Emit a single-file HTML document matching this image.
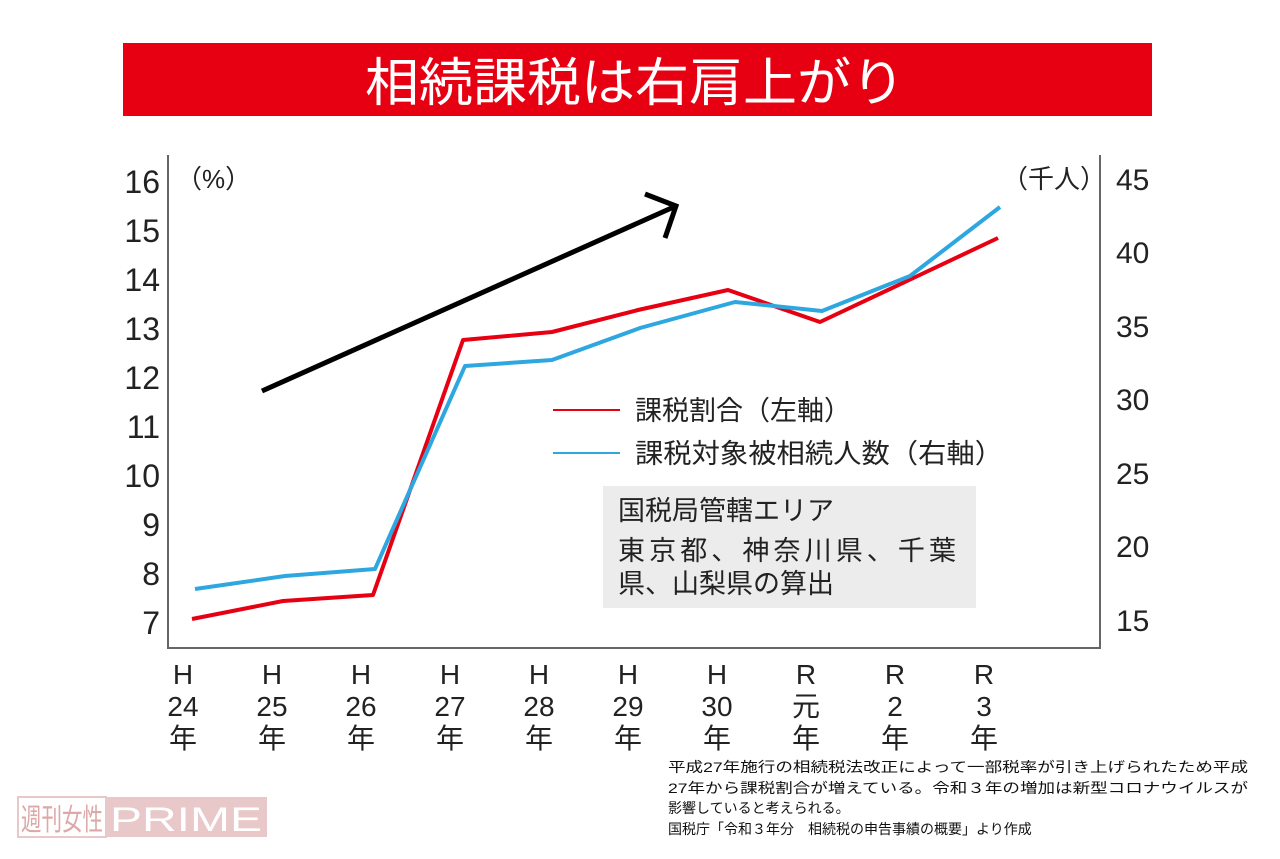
<!DOCTYPE html>
<html><head><meta charset="utf-8"><style>
body{margin:0;background:#fff;width:1280px;height:854px;overflow:hidden;font-family:"Liberation Sans","Noto Sans CJK JP",sans-serif}
</style></head><body>
<svg width="1280" height="854" xmlns="http://www.w3.org/2000/svg" font-family="Liberation Sans, Noto Sans CJK JP, sans-serif">
<rect x="123" y="43" width="1029" height="73" fill="#e60012"/>
<text x="365" y="101" font-size="52" fill="#fff" textLength="540" lengthAdjust="spacingAndGlyphs">相続課税は右肩上がり</text>
<g stroke="#666" stroke-width="2" fill="none">
<line x1="168" y1="155" x2="168" y2="649"/>
<line x1="167" y1="648" x2="1101" y2="648"/>
<line x1="1100" y1="155" x2="1100" y2="649"/>
</g>
<g font-size="32" fill="#222" text-anchor="end">
<text x="160" y="193">16</text><text x="160" y="242">15</text><text x="160" y="291">14</text><text x="160" y="340">13</text><text x="160" y="389">12</text><text x="160" y="438">11</text><text x="160" y="487">10</text><text x="160" y="536">9</text><text x="160" y="585">8</text><text x="160" y="634">7</text>
</g>
<g font-size="30" fill="#222" text-anchor="start">
<text x="1116" y="190">45</text><text x="1116" y="263">40</text><text x="1116" y="337">35</text><text x="1116" y="410">30</text><text x="1116" y="484">25</text><text x="1116" y="557">20</text><text x="1116" y="631">15</text>
</g>
<text x="176" y="188" font-size="26" fill="#222">（%）</text>
<text x="1002" y="188" font-size="26" fill="#222">（千人）</text>
<g font-size="28" fill="#222" text-anchor="middle">
<g transform="translate(183,0)"><text y="684">H</text><text y="716">24</text><text y="748">年</text></g>
<g transform="translate(272,0)"><text y="684">H</text><text y="716">25</text><text y="748">年</text></g>
<g transform="translate(361,0)"><text y="684">H</text><text y="716">26</text><text y="748">年</text></g>
<g transform="translate(450,0)"><text y="684">H</text><text y="716">27</text><text y="748">年</text></g>
<g transform="translate(539,0)"><text y="684">H</text><text y="716">28</text><text y="748">年</text></g>
<g transform="translate(628,0)"><text y="684">H</text><text y="716">29</text><text y="748">年</text></g>
<g transform="translate(717,0)"><text y="684">H</text><text y="716">30</text><text y="748">年</text></g>
<g transform="translate(806,0)"><text y="684">R</text><text y="716">元</text><text y="748">年</text></g>
<g transform="translate(895,0)"><text y="684">R</text><text y="716">2</text><text y="748">年</text></g>
<g transform="translate(984,0)"><text y="684">R</text><text y="716">3</text><text y="748">年</text></g>
</g>
<polyline fill="none" stroke="#e60012" stroke-width="4" stroke-linejoin="round" points="192,619 283,601 373,595 463,340 552,332 638,310 728,290 820,322 907,281 998,238"/>
<polyline fill="none" stroke="#2ea7e0" stroke-width="4" stroke-linejoin="round" points="195,589 285,576 375,569 465,366 552,360 640,328 735,302 822,311 910,276 1000,207"/>
<g stroke="#000" stroke-width="5" fill="none">
<line x1="262" y1="391" x2="676" y2="206"/>
<polyline points="645,194 676,206 665,238"/>
</g>
<line x1="553" y1="410" x2="620" y2="410" stroke="#e60012" stroke-width="2"/>
<line x1="553" y1="453" x2="620" y2="453" stroke="#2ea7e0" stroke-width="2"/>
<text x="635" y="420" font-size="27" fill="#222">課税割合（左軸）</text>
<text x="635" y="463" font-size="27" fill="#222" textLength="368" lengthAdjust="spacingAndGlyphs">課税対象被相続人数（右軸）</text>
<rect x="603" y="486" width="373" height="122" fill="#ececec"/>
<text x="618" y="520" font-size="27" fill="#222">国税局管轄エリア</text>
<text x="618" y="560" font-size="27" fill="#222" textLength="338">東京都、神奈川県、千葉</text>
<text x="618" y="593" font-size="27" fill="#222">県、山梨県の算出</text>
<g font-size="14" fill="#111">
<text x="668" y="772" textLength="580" lengthAdjust="spacingAndGlyphs">平成27年施行の相続税法改正によって一部税率が引き上げられたため平成</text>
<text x="668" y="793" textLength="580" lengthAdjust="spacingAndGlyphs">27年から課税割合が増えている。令和３年の増加は新型コロナウイルスが</text>
<text x="668" y="813">影響していると考えられる。</text>
<text x="668" y="834">国税庁「令和３年分　相続税の申告事績の概要」より作成</text>
</g>
<rect x="18" y="797" width="88" height="40" fill="#fff" stroke="#e8c8c8" stroke-width="2"/>
<text x="21" y="830" font-size="30" fill="#dca8a8" textLength="82" lengthAdjust="spacingAndGlyphs">週刊女性</text>
<rect x="106" y="797" width="161" height="40" fill="#e8c8c8"/>
<text x="110" y="831" font-size="34" fill="#fff" textLength="152" lengthAdjust="spacingAndGlyphs">PRIME</text>
</svg>
</body></html>
